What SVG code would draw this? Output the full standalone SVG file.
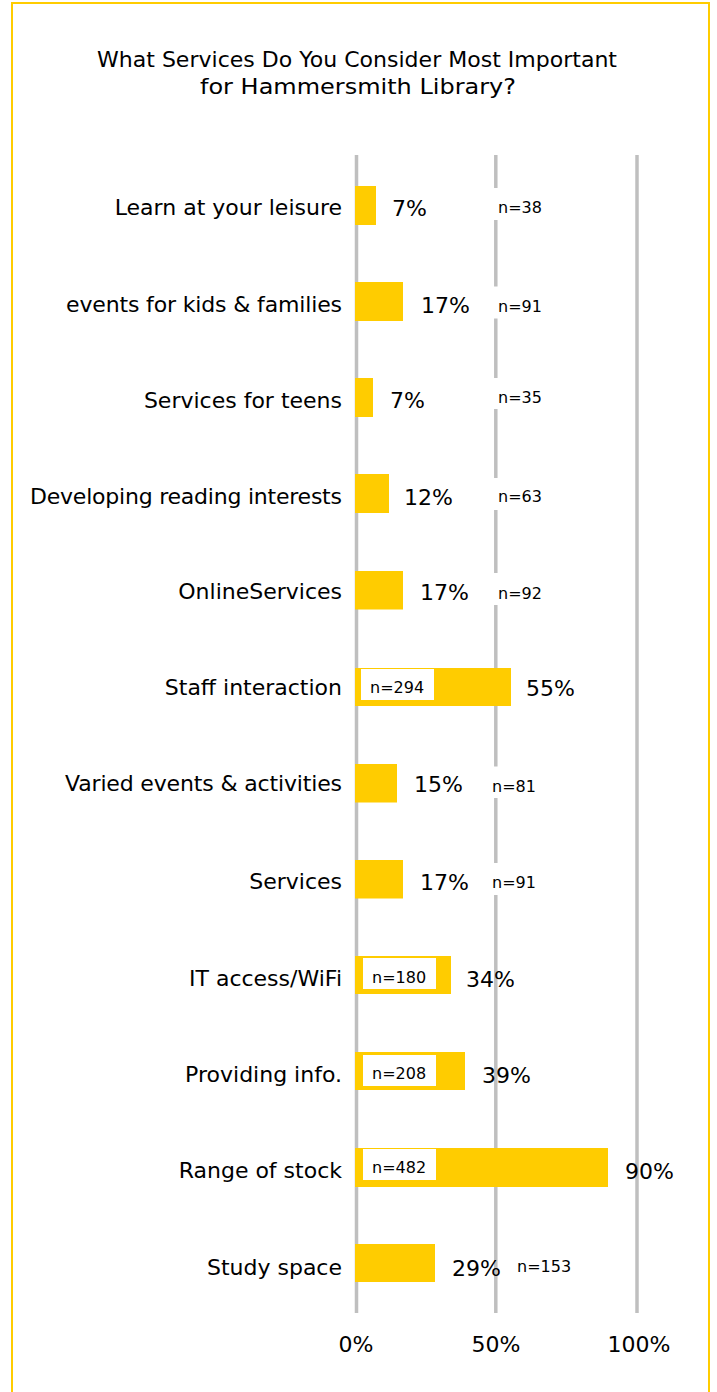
<svg xmlns="http://www.w3.org/2000/svg" width="717" height="1392" viewBox="0 0 717 1392">
<style>
text{font-family:"DejaVu Sans",Verdana,sans-serif;fill:#000}
.title{font-size:22px;text-anchor:middle}
.cat{font-size:22px;text-anchor:end}
.pct{font-size:22px}
.ax{font-size:22px;text-anchor:middle}
.n{font-size:16px}
.bar{fill:#FFCC00}
.nbox{fill:#FFFFFF}
.grid{stroke:#BFBFBF;stroke-width:3.5;fill:none}
</style>
<rect x="0" y="0" width="717" height="1392" fill="#FFFFFF"/>
<rect id="frame" x="12" y="3" width="697" height="1420" fill="none" stroke="#FFCC00" stroke-width="2"/>
<g id="title">
<text class="title" x="357" y="67" textLength="520" lengthAdjust="spacingAndGlyphs">What Services Do You Consider Most Important</text>
<text class="title" x="358" y="94" textLength="316" lengthAdjust="spacingAndGlyphs">for Hammersmith Library?</text>
</g>
<g id="gridlines">
<line class="grid" x1="356.5" y1="155" x2="356.5" y2="1313"/>
<line class="grid" x1="495.8" y1="155" x2="495.8" y2="1313"/>
<line class="grid" x1="637" y1="155" x2="637" y2="1313"/>
</g>
<g id="connectors"></g>
<g id="row-learn">
<rect class="bar" x="355" y="186" width="21" height="39"/>
<text class="cat" x="342" y="214.5">Learn at your leisure</text>
<text class="pct" x="392" y="215.7">7%</text>
<rect class="nbox" x="489" y="188" width="73" height="32"/>
<text class="n" x="498" y="213.3">n=38</text>
</g>
<g id="row-kids">
<rect class="bar" x="355" y="282" width="48" height="39"/>
<text class="cat" x="342" y="311.5" textLength="276" lengthAdjust="spacing">events for kids &amp; families</text>
<text class="pct" x="421" y="312.7">17%</text>
<rect class="nbox" x="489" y="286.5" width="73" height="32"/>
<text class="n" x="498" y="311.7">n=91</text>
</g>
<g id="row-teens">
<rect class="bar" x="355" y="378" width="18" height="39"/>
<text class="cat" x="342" y="407.5">Services for teens</text>
<text class="pct" x="390" y="408.3">7%</text>
<rect class="nbox" x="489" y="378" width="73" height="31"/>
<text class="n" x="498" y="402.7">n=35</text>
</g>
<g id="row-reading">
<rect class="bar" x="355" y="474" width="34" height="39"/>
<text class="cat" x="342" y="504" textLength="312" lengthAdjust="spacing">Developing reading interests</text>
<text class="pct" x="404" y="505">12%</text>
<rect class="nbox" x="489" y="478" width="73" height="32"/>
<text class="n" x="498" y="502.3">n=63</text>
</g>
<g id="row-online">
<rect class="bar" x="355" y="571" width="48" height="38.5"/>
<text class="cat" x="342" y="599">OnlineServices</text>
<text class="pct" x="420" y="600">17%</text>
<rect class="nbox" x="489" y="573" width="73" height="32"/>
<text class="n" x="498" y="598.7">n=92</text>
</g>
<g id="row-staff">
<rect class="bar" x="355" y="668" width="156" height="38"/>
<text class="cat" x="342" y="695">Staff interaction</text>
<rect class="nbox" x="361" y="669" width="73" height="31"/>
<text class="n" x="370" y="693.3">n=294</text>
<text class="pct" x="526" y="696">55%</text>
</g>
<g id="row-varied">
<rect class="bar" x="355" y="764" width="42" height="38.5"/>
<text class="cat" x="342" y="791.3" textLength="277" lengthAdjust="spacing">Varied events &amp; activities</text>
<text class="pct" x="414" y="792.3">15%</text>
<rect class="nbox" x="483" y="766.5" width="73" height="31.5"/>
<text class="n" x="492" y="791.7">n=81</text>
</g>
<g id="row-services">
<rect class="bar" x="355" y="860" width="48" height="38.5"/>
<text class="cat" x="342" y="889">Services</text>
<text class="pct" x="420" y="890">17%</text>
<rect class="nbox" x="483" y="863" width="73" height="32"/>
<text class="n" x="492" y="888.3">n=91</text>
</g>
<g id="row-it">
<rect class="bar" x="355" y="956" width="96" height="38"/>
<text class="cat" x="342" y="985.7">IT access/WiFi</text>
<rect class="nbox" x="363" y="958" width="73" height="31"/>
<text class="n" x="372" y="982.7">n=180</text>
<text class="pct" x="466" y="986.7">34%</text>
</g>
<g id="row-info">
<rect class="bar" x="355" y="1052" width="110" height="38"/>
<text class="cat" x="342" y="1082.3">Providing info.</text>
<rect class="nbox" x="363" y="1055" width="73" height="31"/>
<text class="n" x="372" y="1079">n=208</text>
<text class="pct" x="482" y="1083.3">39%</text>
</g>
<g id="row-stock">
<rect class="bar" x="355" y="1148" width="253" height="39"/>
<text class="cat" x="342" y="1178.3">Range of stock</text>
<rect class="nbox" x="363" y="1149" width="73" height="31"/>
<text class="n" x="372" y="1173.3">n=482</text>
<text class="pct" x="625" y="1179.3">90%</text>
</g>
<g id="row-study">
<rect class="bar" x="355" y="1244" width="80" height="38"/>
<text class="cat" x="342" y="1274.7">Study space</text>
<text class="pct" x="452" y="1275.7">29%</text>
<text class="n" x="517" y="1272.3">n=153</text>
</g>
<g id="axis">
<text class="ax" x="356" y="1351.7">0%</text>
<text class="ax" x="496" y="1351.7">50%</text>
<text class="ax" x="639" y="1351.7">100%</text>
</g>
</svg>
